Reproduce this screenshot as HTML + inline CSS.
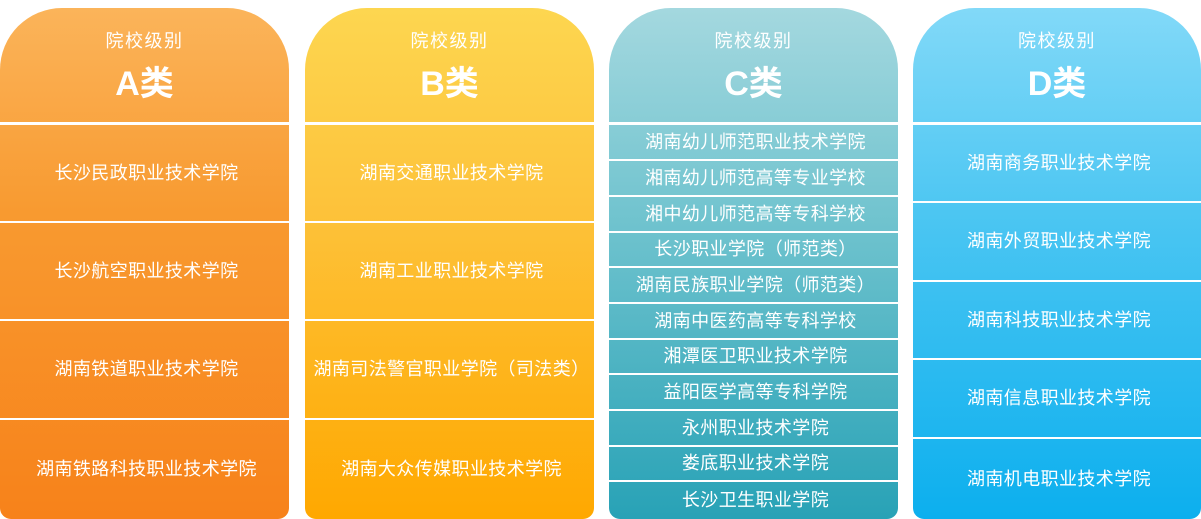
<!DOCTYPE html>
<html><head><meta charset="utf-8"><style>
body{margin:0;width:1201px;height:519px;background:#fff;font-family:"Liberation Sans","Noto Sans CJK SC",sans-serif;overflow:hidden;position:relative}
.col{position:absolute;top:8px;height:511px;width:289px;border-radius:62px 62px 11px 11px;overflow:hidden;color:#fff}
.hd{position:absolute;top:0;left:0;right:0;height:114px;text-align:center}
.hd .s{position:absolute;top:19px;left:0;right:0;font-size:18px;letter-spacing:1.5px}
.hd .b{position:absolute;top:48px;left:0;right:0;font-size:34px;font-weight:bold}
.sep{position:absolute;left:0;right:0;background:#fff}
.r{position:absolute;left:0;right:0;display:flex;align-items:center;justify-content:center;font-size:18px;letter-spacing:0.4px;padding-left:4px;box-sizing:border-box;padding-bottom:3px}
</style></head><body>

<div class="col" style="left:0;background:linear-gradient(#fbb45a,#f89a30 40%,#f7821a)">
<div class="hd"><div class="s">院校级别</div><div class="b">A类</div></div>
<div class="sep" style="top:114px;height:3px"></div>
<div class="r" style="top:117px;height:96px">长沙民政职业技术学院</div>
<div class="sep" style="top:213px;height:2px"></div>
<div class="r" style="top:215px;height:96px">长沙航空职业技术学院</div>
<div class="sep" style="top:311px;height:2px"></div>
<div class="r" style="top:313px;height:97px">湖南铁道职业技术学院</div>
<div class="sep" style="top:410px;height:2px"></div>
<div class="r" style="top:412px;height:99px">湖南铁路科技职业技术学院</div>
</div>

<div class="col" style="left:305px;background:linear-gradient(#fdd650,#fdc23a 40%,#ffa800)">
<div class="hd"><div class="s">院校级别</div><div class="b">B类</div></div>
<div class="sep" style="top:114px;height:3px"></div>
<div class="r" style="top:117px;height:96px">湖南交通职业技术学院</div>
<div class="sep" style="top:213px;height:2px"></div>
<div class="r" style="top:215px;height:96px">湖南工业职业技术学院</div>
<div class="sep" style="top:311px;height:2px"></div>
<div class="r" style="top:313px;height:97px">湖南司法警官职业学院（司法类）</div>
<div class="sep" style="top:410px;height:2px"></div>
<div class="r" style="top:412px;height:99px">湖南大众传媒职业技术学院</div>
</div>

<div class="col" style="left:609px;background:linear-gradient(#a4d8df,#72c4cf 40%,#28a2b6)">
<div class="hd"><div class="s">院校级别</div><div class="b">C类</div></div>
<div class="sep" style="top:114px;height:3px"></div>
<div class="r" style="top:117px;height:34px">湖南幼儿师范职业技术学院</div>
<div class="sep" style="top:151px;height:2px"></div>
<div class="r" style="top:153px;height:34px">湘南幼儿师范高等专业学校</div>
<div class="sep" style="top:187px;height:2px"></div>
<div class="r" style="top:189px;height:34px">湘中幼儿师范高等专科学校</div>
<div class="sep" style="top:223px;height:2px"></div>
<div class="r" style="top:225px;height:33px">长沙职业学院（师范类）</div>
<div class="sep" style="top:258px;height:2px"></div>
<div class="r" style="top:260px;height:34px">湖南民族职业学院（师范类）</div>
<div class="sep" style="top:294px;height:2px"></div>
<div class="r" style="top:296px;height:34px">湖南中医药高等专科学校</div>
<div class="sep" style="top:330px;height:2px"></div>
<div class="r" style="top:332px;height:33px">湘潭医卫职业技术学院</div>
<div class="sep" style="top:365px;height:2px"></div>
<div class="r" style="top:367px;height:34px">益阳医学高等专科学院</div>
<div class="sep" style="top:401px;height:2px"></div>
<div class="r" style="top:403px;height:34px">永州职业技术学院</div>
<div class="sep" style="top:437px;height:2px"></div>
<div class="r" style="top:439px;height:33px">娄底职业技术学院</div>
<div class="sep" style="top:472px;height:2px"></div>
<div class="r" style="top:474px;height:37px">长沙卫生职业学院</div>
</div>

<div class="col" style="left:913px;width:288px;background:linear-gradient(#82d9f8,#4cc6f2 40%,#0cafee)">
<div class="hd"><div class="s">院校级别</div><div class="b">D类</div></div>
<div class="sep" style="top:114px;height:3px"></div>
<div class="r" style="top:117px;height:76px">湖南商务职业技术学院</div>
<div class="sep" style="top:193px;height:2px"></div>
<div class="r" style="top:195px;height:77px">湖南外贸职业技术学院</div>
<div class="sep" style="top:272px;height:2px"></div>
<div class="r" style="top:274px;height:76px">湖南科技职业技术学院</div>
<div class="sep" style="top:350px;height:2px"></div>
<div class="r" style="top:352px;height:77px">湖南信息职业技术学院</div>
<div class="sep" style="top:429px;height:2px"></div>
<div class="r" style="top:431px;height:80px">湖南机电职业技术学院</div>
</div>

</body></html>
